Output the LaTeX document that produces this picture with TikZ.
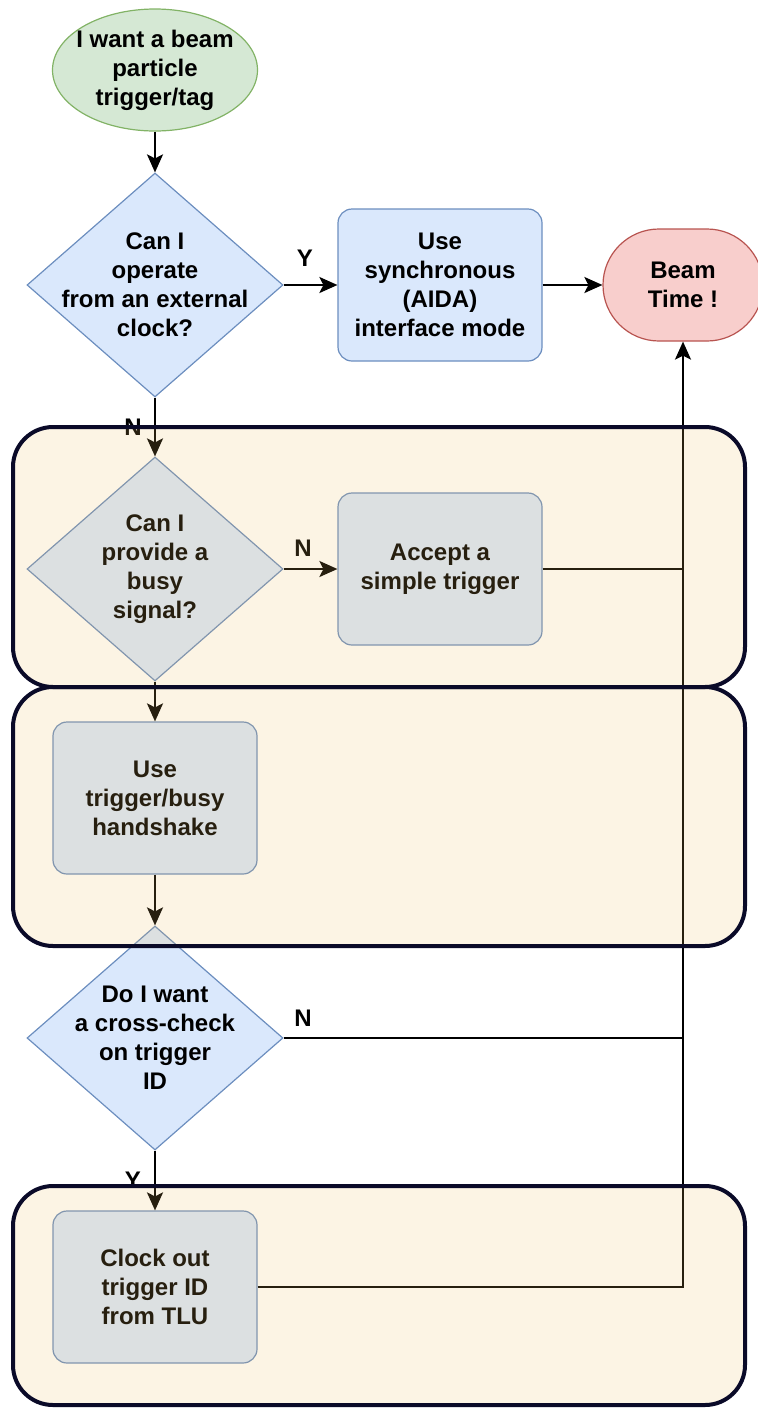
\documentclass[tikz,border=0pt]{standalone}
\usepackage{fontspec}
\setmainfont{Liberation Sans}
\usetikzlibrary{shapes.geometric,arrows.meta}
\definecolor{startfill}{HTML}{D5E8D4}
\definecolor{startline}{HTML}{82B366}
\definecolor{qfill}{HTML}{DAE8FC}
\definecolor{qline}{HTML}{6C8EBF}
\definecolor{endfill}{HTML}{F8CECC}
\definecolor{endline}{HTML}{B85450}
\definecolor{framefill}{RGB}{235,188,94}
\definecolor{frameline}{RGB}{10,10,40}
\tikzset{
  txt/.style={font=\bfseries\fontsize{24}{29}\selectfont, align=center, inner sep=0pt},
  startnode/.style={ellipse, draw=startline, fill=startfill, line width=1.2pt,
    minimum width=205pt, minimum height=122pt, inner sep=0pt},
  question/.style={diamond, draw=qline, fill=qfill, line width=1.2pt,
    minimum width=256pt, minimum height=224pt, inner sep=0pt, shape aspect=1.14},
  actbox/.style={rectangle, rounded corners=14pt, draw=qline, fill=qfill, line width=1.2pt,
    minimum width=204pt, minimum height=152pt, txt},
  endnode/.style={rectangle, rounded corners=56pt, draw=endline, fill=endfill, line width=1.2pt,
    minimum width=160pt, minimum height=112pt, txt},
  arr/.style={draw=black, line width=2pt, -{Stealth[length=18pt,width=16pt,inset=4pt]}},
  wire/.style={draw=black, line width=2pt},
  lbl/.style={font=\bfseries\fontsize{24}{29}\selectfont, inner sep=0pt},
  frame/.style={rounded corners=40pt, draw=frameline, line width=4pt,
    fill=framefill, fill opacity=0.17, draw opacity=1},
}
\begin{document}
\begin{tikzpicture}[x=1pt,y=-1pt]
\useasboundingbox (0,0) rectangle (758,1409);

% start
\node[startnode] (start) at (155,70) {};
\node[txt] (startt) at (start) {I want a beam\\particle\\trigger/tag};

% external clock question
\node[question] (q1) at (155,285) {};
\node[txt] (q1t) at (q1) {Can I\\operate\\from an external\\clock?};

\node[actbox] (sync) at (440,285) {Use\\synchronous\\(AIDA)\\interface mode};
\node[endnode] (beam) at (683,285) {Beam\\Time !};

% busy question
\node[question] (q2) at (155,569) {};
\node[txt] (q2t) at (q2) {Can I\\provide a\\busy\\signal?};
\node[actbox] (acc) at (440,569) {Accept a\\simple trigger};

\node[actbox] (hand) at (155,798) {Use\\trigger/busy\\handshake};

% trigger ID question
\node[question] (q3) at (155,1038) {};
\node[txt] (q3t) at (q3) {Do I want\\a cross-check\\on trigger\\ID};

\node[actbox] (clk) at (155,1287) {Clock out\\trigger ID\\from TLU};

% connectors
\draw[arr] (start.south) -- (q1.north);
\draw[arr] (q1.east) -- (sync.west);
\draw[arr] (sync.east) -- (beam.west);
\draw[arr] (q1.south) -- (q2.north);
\draw[arr] (q2.east) -- (acc.west);
\draw[wire] (acc.east) -- (acc.east -| beam.south);
\draw[arr] (q2.south) -- (hand.north);
\draw[arr] (hand.south) -- (q3.north);
\draw[wire] (q3.east) -- (q3.east -| beam.south);
\draw[arr] (q3.south) -- (clk.north);
\draw[arr] (clk.east) -| (beam.south);

% branch labels
\node[lbl] (ly1) at (305,258) {Y};
\node[lbl] (ln1) at (133,427) {N};
\node[lbl] (ln2) at (303,548) {N};
\node[lbl] (ln3) at (303,1018) {N};
\node[lbl] (ly3) at (133,1180) {Y};

% grouping frames laid over the steps
\draw[frame] (13,427) rectangle (745,687);
\draw[frame] (13,687) rectangle (745,946);
\draw[frame] (13,1186) rectangle (745,1405);
\end{tikzpicture}
\end{document}
